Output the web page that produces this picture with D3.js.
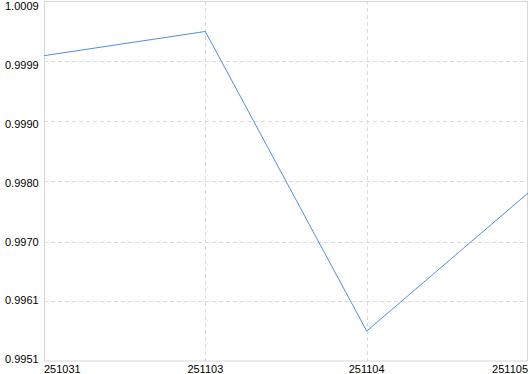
<!DOCTYPE html>
<html>
<head>
<meta charset="utf-8">
<script src="https://cdn.jsdelivr.net/npm/d3@7"></script>
<style>
  html, body { margin: 0; padding: 0; background: #fff; overflow: hidden; }
  text { font-family: "Liberation Sans", Arial, sans-serif; font-size: 11px; fill: #000; }
</style>
</head>
<body>
<script>
/* ---------------------------------- data ---------------------------------- */
const dates = ["251031", "251103", "251104", "251105"];
const values = [1.00002, 1.00041, 0.99559, 0.99781];
const yDomain = [0.9951, 1.0009];
const yTicks = [0.9951, 0.99607, 0.99703, 0.9980, 0.99897, 0.99993, 1.0009];
const yTickLabels = ["0.9951", "0.9961", "0.9970", "0.9980", "0.9990", "0.9999", "1.0009"];

/* ------------------------------ document size ----------------------------- */
const width = 530, height = 374;
const margin = { top: 1, right: 2, bottom: 12.5, left: 44 };

const svg = d3.select("body").append("svg")
    .attr("width", width)
    .attr("height", height);

const x = d3.scalePoint()
    .domain(dates)
    .range([margin.left, width - margin.right]);

const y = d3.scaleLinear()
    .domain(yDomain)
    .range([height - margin.bottom, margin.top]);

// labels sit inside the plot band so the end ones don't spill over
const yLabel = d3.scalePoint()
    .domain(yTickLabels)
    .range([height - margin.bottom - 2, margin.top + 5]);

/* ---------------------------------- grid ---------------------------------- */
svg.append("g")
    .selectAll("line")
    .data(yTicks.slice(1, -1))
    .enter().append("line")
    .attr("x1", margin.left).attr("x2", width - margin.right)
    .attr("y1", d => Math.round(y(d)) + 0.5).attr("y2", d => Math.round(y(d)) + 0.5)
    .attr("stroke", "#dcdcdc")
    .attr("stroke-dasharray", "4,3");

svg.append("g")
    .selectAll("line")
    .data(dates.slice(1, -1))
    .enter().append("line")
    .attr("x1", d => Math.round(x(d)) + 0.5).attr("x2", d => Math.round(x(d)) + 0.5)
    .attr("y1", margin.top).attr("y2", height - margin.bottom)
    .attr("stroke", "#dcdcdc")
    .attr("stroke-dasharray", "4,3");

/* --------------------------------- frame ---------------------------------- */
svg.append("rect")
    .attr("x", margin.left + 0.5)
    .attr("y", margin.top + 0.5)
    .attr("width", width - margin.left - margin.right - 1)
    .attr("height", height - margin.top - margin.bottom - 1)
    .attr("fill", "none")
    .attr("stroke", "#d6d6d6");

/* --------------------------------- labels --------------------------------- */
svg.append("g")
    .selectAll("text")
    .data(yTickLabels)
    .enter().append("text")
    .attr("x", 5)
    .attr("y", d => yLabel(d))
    .attr("dy", "0.35em")
    .text(d => d);

svg.append("g")
    .selectAll("text")
    .data(dates)
    .enter().append("text")
    .attr("x", d => x(d))
    .attr("y", height - 1)
    .attr("text-anchor", (d, i) => i == 0 ? "start" : (i == dates.length - 1 ? "end" : "middle"))
    .text(d => d);

/* ---------------------------------- line ---------------------------------- */
const line = d3.line()
    .x((d, i) => x(dates[i]))
    .y(d => y(d));

svg.append("path")
    .datum(values)
    .attr("d", line)
    .attr("fill", "none")
    .attr("stroke", "#4f8ee8")
    .attr("stroke-width", 1);
</script>
</body>
</html>
